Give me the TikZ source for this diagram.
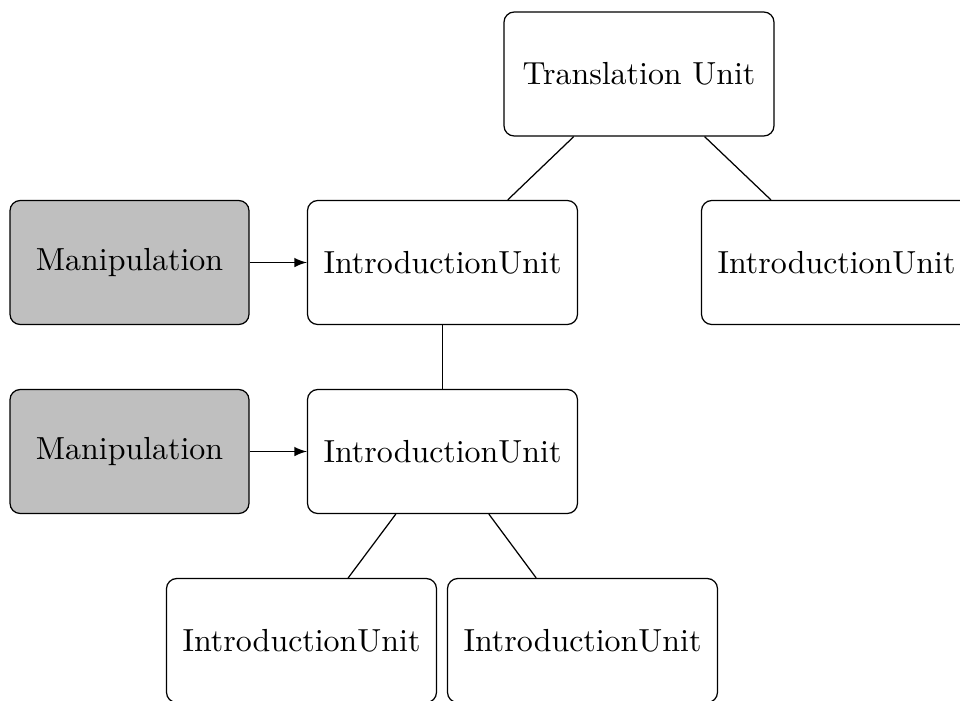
\documentclass[tikz,border=0pt]{standalone}
\usetikzlibrary{arrows}
\begin{document}
\begin{tikzpicture}[x=0.3226pt, y=-0.3226pt,
  every node/.style={font=\fontsize{10.3pt}{12pt}\selectfont},
  unitbox/.style={draw, rounded corners=3.3pt, minimum width=87.1pt, minimum height=40pt, inner sep=0pt},
  manipbox/.style={draw, fill=lightgray, rounded corners=3.3pt, minimum width=77.1pt, minimum height=40pt, inner sep=0pt},
  treeedge/.style={draw},
  feed/.style={draw, -latex}]
  \clip (0,0) rectangle (960,700);
  \node[unitbox] (tu) at (639,74) {Translation Unit};
  \node[unitbox] (iu1) at (442.5,262.5) {IntroductionUnit};
  \node[unitbox] (iur) at (836.5,262.5) {IntroductionUnit};
  \node[unitbox] (iu2) at (442.5,451.5) {IntroductionUnit};
  \node[unitbox] (iu3) at (301.5,640.5) {IntroductionUnit};
  \node[unitbox] (iu4) at (582.5,640.5) {IntroductionUnit};
  \node[manipbox] (m1) at (129.5,262.5) {Manipulation};
  \node[manipbox] (m2) at (129.5,451.5) {Manipulation};
  \path[treeedge] (tu) -- (iu1);
  \path[treeedge] (tu) -- (iur);
  \path[treeedge] (iu1) -- (iu2);
  \path[treeedge] (iu2) -- (iu3);
  \path[treeedge] (iu2) -- (iu4);
  \path[feed] (m1) -- (iu1);
  \path[feed] (m2) -- (iu2);
\end{tikzpicture}
\end{document}
